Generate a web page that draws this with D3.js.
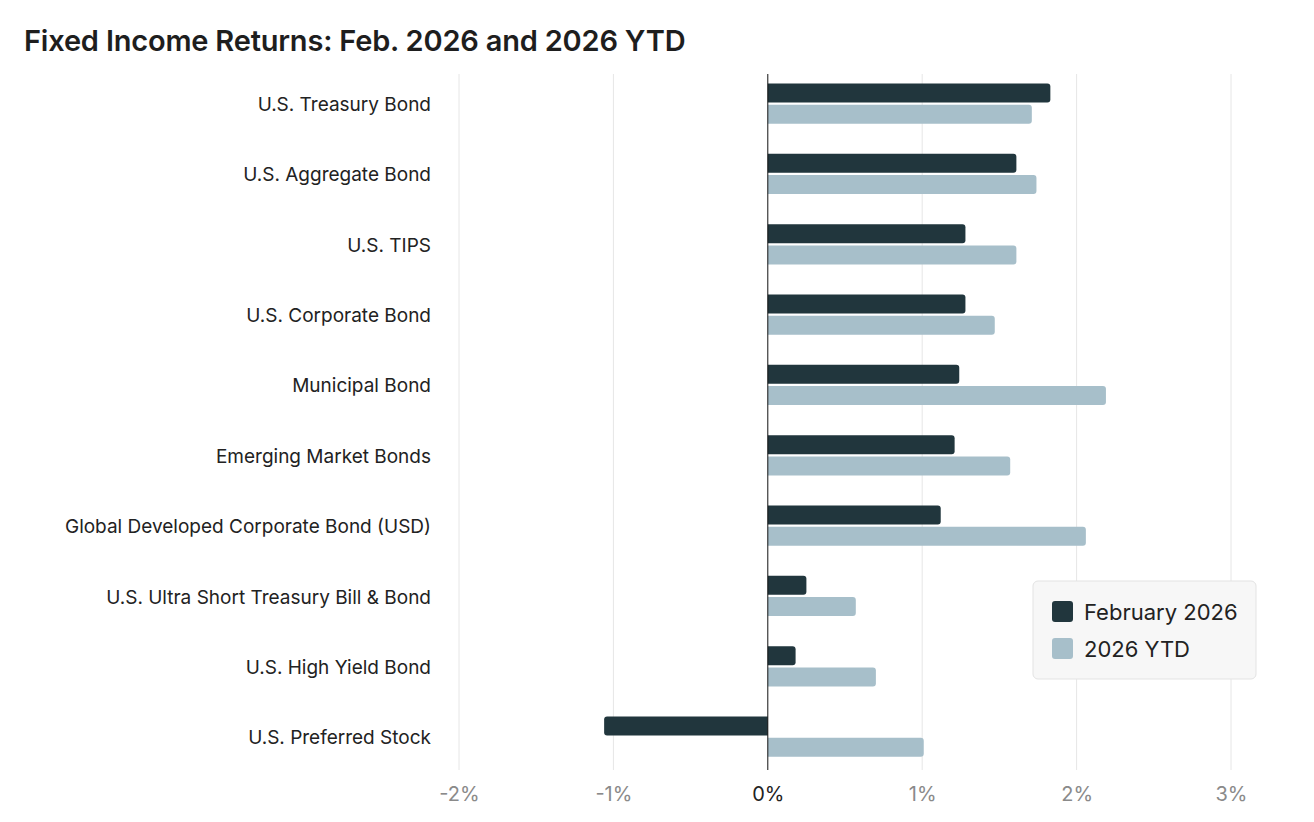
<!DOCTYPE html>
<html><head><meta charset="utf-8">
<script src="https://cdn.jsdelivr.net/npm/d3@7"></script>
<style>body{margin:0;background:#fff;}svg{display:block;font-family:Inter,"Noto Sans",sans-serif;}</style>
</head><body><svg id="c" width="1314" height="822"></svg>
<script>
const categories = ["U.S. Treasury Bond","U.S. Aggregate Bond","U.S. TIPS","U.S. Corporate Bond","Municipal Bond","Emerging Market Bonds","Global Developed Corporate Bond (USD)","U.S. Ultra Short Treasury Bill & Bond","U.S. High Yield Bond","U.S. Preferred Stock"];
const february2026 = [1.83, 1.61, 1.28, 1.28, 1.24, 1.21, 1.12, 0.25, 0.18, -1.06];
const ytd2026 = [1.71, 1.74, 1.61, 1.47, 2.19, 1.57, 2.06, 0.57, 0.70, 1.01];
const seriesNames = ["February 2026", "2026 YTD"];
const tickValues = [-2, -1, 0, 1, 2, 3];

(function () {
const colors = ["#21363d", "#a7bfca"];
const svg = d3.select("#c");
const x = d3.scaleLinear().domain([-2, 3]).range([459, 1231]);
const y = d3.scaleBand().domain(categories).range([69.3, 772.7]);
const plotTop = 74, plotBottom = 770;

svg.append("text").attr("x", 24).attr("y", 51).attr("font-size", 29).attr("font-weight", 600)
  .attr("fill", "#1e1e1e").attr("letter-spacing", -0.2).text("Fixed Income Returns: Feb. 2026 and 2026 YTD");

svg.append("g").selectAll("line").data(tickValues.filter(d => d !== 0)).join("line")
  .attr("x1", d => x(d)).attr("x2", d => x(d)).attr("y1", plotTop).attr("y2", plotBottom)
  .attr("stroke", "#e6e6e6").attr("stroke-width", 1);

const ax = svg.append("g").attr("transform", `translate(0,${plotBottom})`)
  .call(d3.axisBottom(x).tickValues(tickValues).tickFormat(d => d + "%").tickSize(0).tickPadding(17));
ax.select(".domain").remove();
ax.selectAll("text").attr("font-size", 20).attr("font-family", "Inter,sans-serif")
  .attr("fill", d => d === 0 ? "#222" : "#8a8a8a");

svg.append("g").selectAll("text").data(categories).join("text")
  .attr("x", 431).attr("y", d => y(d) + y.bandwidth() / 2).attr("dy", "0.35em")
  .attr("text-anchor", "end").attr("font-size", 19).attr("fill", "#222").text(d => d);

const sub = d3.scaleBand().domain([0, 1]).range([-20.5, 20.5]).paddingInner(0.07);
const bh = 19, r = 3;
function barPath(v0, v1, yt, h) {
  const a = x(v0), b = x(v1);
  const dir = b >= a ? 1 : -1;
  const rr = Math.min(r, Math.abs(b - a));
  return `M${a},${yt}L${b - dir * rr},${yt}Q${b},${yt} ${b},${yt + rr}L${b},${yt + h - rr}Q${b},${yt + h} ${b - dir * rr},${yt + h}L${a},${yt + h}Z`;
}
const data = [february2026, ytd2026];
data.forEach((vals, si) => {
  svg.append("g").selectAll("path").data(categories).join("path")
    .attr("d", (c, i) => barPath(0, vals[i], y(c) + y.bandwidth() / 2 + sub(si) - 0.5, bh))
    .attr("fill", colors[si]);
});

svg.append("line").attr("x1", x(0)).attr("x2", x(0)).attr("y1", plotTop).attr("y2", plotBottom)
  .attr("stroke", "#111").attr("stroke-width", 1);

const lg = svg.append("g").attr("transform", "translate(1033,581)");
lg.append("rect").attr("width", 223).attr("height", 98).attr("rx", 5)
  .attr("fill", "#f7f7f7").attr("stroke", "#e3e3e3");
seriesNames.forEach((s, i) => {
  lg.append("rect").attr("x", 19).attr("y", 20 + i * 37).attr("width", 21).attr("height", 21).attr("rx", 3).attr("fill", colors[i]);
  lg.append("text").attr("x", 51).attr("y", 31 + i * 37).attr("dy", "0.35em").attr("font-size", 22).attr("fill", "#222").text(s);
});
})();
</script></body></html>
